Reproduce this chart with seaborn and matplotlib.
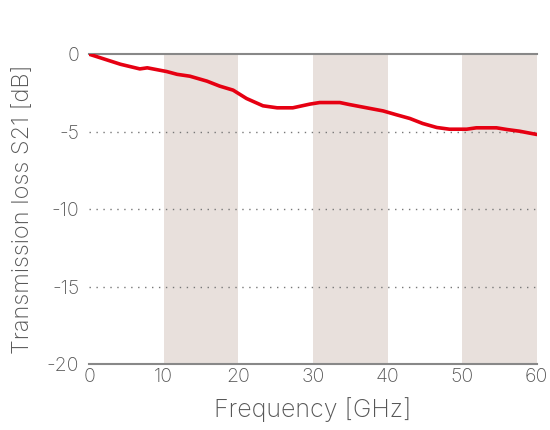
import matplotlib
matplotlib.use("Agg")
import matplotlib.pyplot as plt
import seaborn as sns
import pandas as pd

freq_ghz = [0, 4.2, 6.8, 7.8, 10.4, 11.8, 13.5, 15.8, 17.5, 19.3, 21.1, 23.3,
            25.2, 27.3, 29.6, 30.9, 33.6, 34.9, 37.2, 39.4, 41.2, 43.0, 44.7,
            46.6, 48.3, 50.6, 51.9, 54.6, 56.0, 57.7, 60.0]
s21_db = [0, -0.65, -0.95, -0.88, -1.12, -1.3, -1.42, -1.74, -2.06, -2.32, -2.86,
          -3.33, -3.46, -3.46, -3.22, -3.12, -3.12, -3.25, -3.46, -3.66, -3.91,
          -4.15, -4.47, -4.73, -4.84, -4.84, -4.75, -4.75, -4.86, -4.97, -5.18]
bands = [(10, 20), (30, 40), (50, 60)]
x_ticks = [0, 10, 20, 30, 40, 50, 60]
y_ticks = [0, -5, -10, -15, -20]

sns.set_theme(style="white")
plt.rcParams["font.family"] = ["Inter", "Lato", "DejaVu Sans"]
plt.rcParams["font.weight"] = "light"

text_gray = "#575757"
fig = plt.figure(figsize=(5.5, 4.3), dpi=100)
ax = fig.add_axes([0.162, 0.153, 0.814, 0.721])

for lo, hi in bands:
    ax.axvspan(lo, hi, color="#e8e0dc", lw=0, zorder=0)

for y in [-5, -10, -15]:
    ax.axhline(y, color="#777777", lw=1.0, ls=(0, (1, 4)), zorder=1)

df = pd.DataFrame({"Frequency": freq_ghz, "S21": s21_db})
sns.lineplot(data=df, x="Frequency", y="S21", ax=ax, color="#e60012",
             lw=2.6, zorder=3)

ax.set_xlim(0, 60)
ax.set_ylim(-20, 0)
ax.set_xticks(x_ticks)
ax.set_yticks(y_ticks)
ax.set_yticklabels([str(v) for v in y_ticks])

for side in ["left", "right"]:
    ax.spines[side].set_visible(False)
for side in ["top", "bottom"]:
    ax.spines[side].set_color("#888888")
    ax.spines[side].set_linewidth(1.5)

ax.tick_params(axis="both", length=0, labelsize=14, colors=text_gray)
ax.tick_params(axis="x", pad=3)
ax.tick_params(axis="y", pad=7)
for lbl in ax.get_xticklabels() + ax.get_yticklabels():
    lbl.set_fontweight("light")
ax.set_xlabel("Frequency [GHz]", fontsize=18, color=text_gray, labelpad=8,
              fontweight="light")
ax.set_ylabel("Transmission loss S21 [dB]", fontsize=17, color=text_gray,
              labelpad=9, fontweight="light")

fig.savefig("out.png", dpi=100)
